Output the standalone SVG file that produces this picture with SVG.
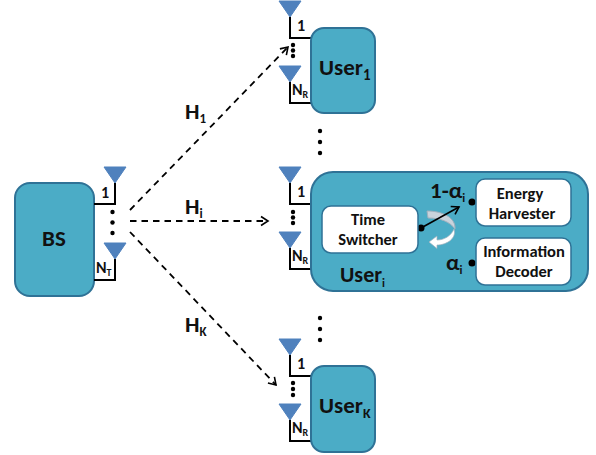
<svg xmlns="http://www.w3.org/2000/svg" width="596" height="455" viewBox="0 0 596 455">
<defs>
<marker id="arr" markerUnits="userSpaceOnUse" markerWidth="12" markerHeight="12" refX="9" refY="6" orient="auto"><path d="M2 1.500L9 6L2 10.500" fill="none" stroke="#000" stroke-width="1.600"/></marker>
<g id="ant"><path class="wire" d="M0 16V37H21"/><path class="tri" d="M-11 0H11L0 16Z"/></g>
</defs>
<style>
text{font-family:Calibri,Carlito,"Liberation Sans","Open Sans",sans-serif;fill:#111}
.box{fill:#4bacc6;stroke:#2f7296;stroke-width:2}
.white{fill:#fff;stroke:#2f7296;stroke-width:1.500}
.tri{fill:#4f81bd;stroke:#4f81bd}
.wire{fill:none;stroke:#000;stroke-width:2}
.dash{fill:none;stroke:#000;stroke-width:1.800;stroke-dasharray:6.500 5;marker-end:url(#arr)}
.big{font-size:23px;font-weight:700}
.hl{font-size:23px;font-weight:700}
.lab{font-size:16.500px;font-weight:700;text-anchor:middle}
.ant{font-size:16px;font-weight:700}
.sub{font-size:10px;font-weight:700}
</style>
<rect width="596" height="455" fill="#fff"/>
<g id="connectors">
<path class="dash" d="M130 210L288 47"/>
<path class="dash" d="M130 221L268 221"/>
<path class="dash" d="M130 232L276 385"/>
</g>
<g id="bs">
<rect class="box" x="15" y="183" width="79" height="113" rx="15"/>
<text x="54" y="246" class="big" text-anchor="middle">BS</text>
<use href="#ant" transform="translate(115,167) scale(-1,1)"/>
<use href="#ant" transform="translate(115,243) scale(-1,1)"/>
<text x="101" y="198" class="ant">1</text>
<text x="96" y="273" class="ant">N<tspan class="sub" dy="3">T</tspan></text>
<g fill="#000"><circle cx="112.500" cy="212" r="2.200"/><circle cx="112.500" cy="222.500" r="2.200"/><circle cx="112.500" cy="233" r="2.200"/></g>
</g>
<g id="user1">
<use href="#ant" x="290" y="1"/>
<use href="#ant" x="290" y="66"/>
<rect class="box" x="311" y="28" width="64" height="85" rx="13"/>
<text x="319" y="75" class="big">User<tspan class="sub" style="font-size:15px" dy="5">1</tspan></text>
<text x="297" y="31" class="ant">1</text>
<text x="292" y="95" class="ant">N<tspan class="sub" dy="3">R</tspan></text>
<g fill="#000"><circle cx="293" cy="45" r="2.200"/><circle cx="293" cy="50.500" r="2.200"/><circle cx="293" cy="56" r="2.200"/></g>
</g>
<g id="dots-upper" fill="#000"><circle cx="320" cy="131" r="2.200"/><circle cx="320" cy="142" r="2.200"/><circle cx="320" cy="153" r="2.200"/></g>
<g id="useri">
<use href="#ant" x="290" y="167"/>
<use href="#ant" x="290" y="232"/>
<rect class="box" x="311" y="172" width="277" height="119" rx="22"/>
<text x="297" y="197" class="ant">1</text>
<text x="292" y="261" class="ant">N<tspan class="sub" dy="3">R</tspan></text>
<g fill="#000"><circle cx="293" cy="212" r="2.200"/><circle cx="293" cy="217.500" r="2.200"/><circle cx="293" cy="223" r="2.200"/></g>
<text x="340" y="282" class="big" style="font-size:22px">User<tspan class="sub" style="font-size:12px" dy="5">i</tspan></text>
<path d="M427 211C443 211 456 218 455 229C450 222 441 218 428 218Z" fill="#c9d3dc" stroke="#9fb0bd" stroke-width="1"/>
<path d="M454 229C457 238 447 245 437 245L437 248.500L429 242L437 236L437 240C444 240 451 236 454 229Z" fill="#fff" stroke="#9fb0bd" stroke-width="0.700"/>
<path d="M421 228L459 207" fill="none" stroke="#000" stroke-width="1.600" marker-end="url(#arr)"/>
<circle cx="421" cy="228" r="3.500" fill="#000"/>
<circle cx="472" cy="202" r="3.500" fill="#000"/>
<circle cx="472" cy="263" r="3.500" fill="#000"/>
<text x="430" y="198" class="big">1-α<tspan class="sub" dy="4" style="font-size:12px">i</tspan></text>
<text x="446" y="270" class="big">α<tspan class="sub" dy="4" style="font-size:12px">i</tspan></text>
</g>
<g id="time-switcher">
<rect class="white" x="322" y="206" width="96" height="47" rx="9"/>
<text class="lab" x="368" y="225">Time</text>
<text class="lab" x="368" y="245">Switcher</text>
</g>
<g id="energy-harvester">
<rect class="white" x="476" y="179" width="95" height="47" rx="9"/>
<text class="lab" x="520" y="199">Energy</text>
<text class="lab" x="522" y="219">Harvester</text>
</g>
<g id="information-decoder">
<rect class="white" x="476" y="238" width="95" height="47" rx="9"/>
<text class="lab" x="524" y="257">Information</text>
<text class="lab" x="524" y="277">Decoder</text>
</g>
<g id="dots-lower" fill="#000"><circle cx="320" cy="318" r="2.200"/><circle cx="320" cy="329" r="2.200"/><circle cx="320" cy="340" r="2.200"/></g>
<g id="userk">
<use href="#ant" x="290" y="339"/>
<use href="#ant" x="290" y="404"/>
<rect class="box" x="311" y="366" width="64" height="86" rx="13"/>
<text x="319" y="413" class="big">User<tspan class="sub" style="font-size:14px" dy="5">K</tspan></text>
<text x="297" y="369" class="ant">1</text>
<text x="292" y="433" class="ant">N<tspan class="sub" dy="3">R</tspan></text>
<g fill="#000"><circle cx="293" cy="383" r="2.200"/><circle cx="293" cy="389" r="2.200"/><circle cx="293" cy="395" r="2.200"/></g>
</g>
<g id="channel-labels">
<text x="185" y="119" class="hl">H<tspan class="sub" style="font-size:13px" dy="4">1</tspan></text>
<text x="185" y="214" class="hl">H<tspan class="sub" style="font-size:13px" dy="4">i</tspan></text>
<text x="185" y="332" class="hl">H<tspan class="sub" style="font-size:13px" dy="4">K</tspan></text>
</g>
</svg>
